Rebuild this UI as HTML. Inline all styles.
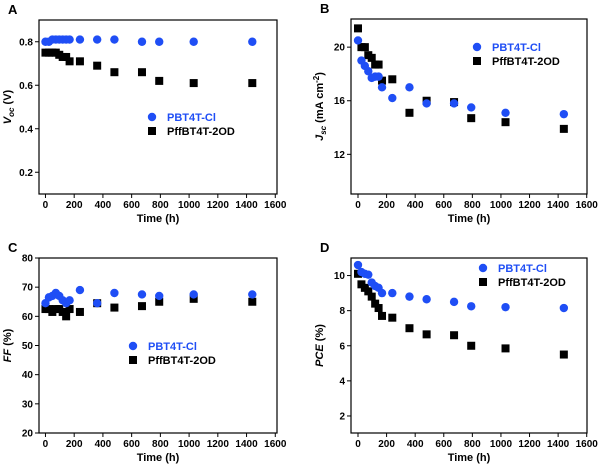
<!DOCTYPE html>
<html><head><meta charset="utf-8"><style>
body{margin:0;background:#fff;}
svg text{font-family:"Liberation Sans",Arial,sans-serif;font-weight:bold;}
</style></head><body>
<svg id="chart" width="600" height="465" viewBox="0 0 600 465" xmlns="http://www.w3.org/2000/svg"></svg>
<script>
const times = [0,24,48,72,96,120,144,168,240,360,480,672,792,1032,1440];
const xTicks = [0,200,400,600,800,1000,1200,1400,1600];
const vocBlue = [0.80,0.80,0.81,0.81,0.81,0.81,0.81,0.81,0.81,0.81,0.81,0.80,0.80,0.80,0.80];
const vocBlack = [0.75,0.75,0.75,0.75,0.74,0.73,0.73,0.71,0.71,0.69,0.66,0.66,0.62,0.61,0.61];
const jscBlue = [20.5,19.0,18.6,18.2,17.7,17.8,17.8,17.0,16.2,17.0,15.8,15.8,15.5,15.1,15.0];
const jscBlack = [21.4,20.0,20.0,19.4,19.2,18.7,18.7,17.5,17.6,15.1,16.0,15.9,14.7,14.4,13.9];
const ffBlue = [64.5,66.5,67,68,67,65.5,64.5,65.5,69,64.5,68,67.5,67,67.5,67.5];
const ffBlack = [62.5,62.5,61.5,62.5,62.5,61.5,60,62.5,61.5,64.5,63,63.5,65,66,65];
const pceBlue = [10.6,10.2,10.1,10.05,9.6,9.4,9.3,9.0,9.0,8.8,8.65,8.5,8.25,8.2,8.15];
const pceBlack = [10.1,9.5,9.3,9.1,8.8,8.4,8.15,7.7,7.6,7.0,6.65,6.6,6.0,5.85,5.5];
const vocTicks = [0.2,0.4,0.6,0.8];
const jscTicks = [12,16,20];
const ffTicks = [20,30,40,50,60,70,80];
const pceTicks = [2,4,6,8,10];

const NS="http://www.w3.org/2000/svg";
const svg=document.getElementById('chart');
function mk(tag,attrs,parent){const e=document.createElementNS(NS,tag);for(const k in attrs)e.setAttribute(k,attrs[k]);(parent||svg).appendChild(e);return e;}

const panels=[
 {id:'a',letter:'A',box:[39,20,277,194],x0:-45,x1:1612,y0:0.1,y1:0.9,ticks:vocTicks,fmt:v=>v.toFixed(1),blue:vocBlue,black:vocBlack,leg:[152,117],ytitle:'voc'},
 {id:'b',letter:'B',box:[351,19,587,194],x0:-49,x1:1602,y0:9.04,y1:22.1,ticks:jscTicks,fmt:v=>String(v),blue:jscBlue,black:jscBlack,leg:[477,47],ytitle:'jsc'},
 {id:'c',letter:'C',box:[39,258,277,433],x0:-45,x1:1612,y0:20,y1:80,ticks:ffTicks,fmt:v=>String(v),blue:ffBlue,black:ffBlack,leg:[133,346],ytitle:'ff'},
 {id:'d',letter:'D',box:[351,258,587,433],x0:-49,x1:1602,y0:1.03,y1:11.0,ticks:pceTicks,fmt:v=>String(v),blue:pceBlue,black:pceBlack,leg:[483,268],ytitle:'pce'}
];
panels.forEach(p=>{
 const [L,T,R,B]=p.box;
 const g=mk('g',{});
 
 
 const sx=v=>L+(v-p.x0)/(p.x1-p.x0)*(R-L);
 const sy=v=>B-(v-p.y0)/(p.y1-p.y0)*(B-T);
 const lt=mk('text',{x:L-31,y:T-6,'font-size':13},g);lt.textContent=p.letter;
 
 
 const frame=mk('rect',{x:L,y:T,width:R-L,height:B-T,fill:'none',stroke:'#000','stroke-width':1.2},g);
 
 
 xTicks.forEach(t=>{
  const x=sx(t);
  mk('line',{x1:x,y1:B,x2:x,y2:B+4,stroke:'#000','stroke-width':1},g);
  const tx=mk('text',{x:x,y:B+14,'font-size':10,'text-anchor':'middle'},g);tx.textContent=t;
  
  
 });
 p.ticks.forEach(t=>{
  const y=sy(t);
  mk('line',{x1:L-4,y1:y,x2:L,y2:y,stroke:'#000','stroke-width':1},g);
  const ty=mk('text',{x:L-6,y:y+3.5,'font-size':10,'text-anchor':'end'},g);ty.textContent=p.fmt(t);
  
  
 });
 const xt=mk('text',{x:(L+R)/2,y:B+28,'font-size':11,'text-anchor':'middle'},g);xt.textContent='Time (h)';
 
 
 const cy=(T+B)/2, ax=L-28;
 const yt=mk('text',{x:ax,y:cy,'font-size':11,'text-anchor':'middle',transform:`rotate(-90 ${ax} ${cy})`},g);
 
 
 if(p.ytitle==='voc')yt.innerHTML='<tspan font-style="italic">V</tspan><tspan font-size="8" dy="3" font-style="italic">oc</tspan><tspan dy="-3"> (V)</tspan>';
 if(p.ytitle==='jsc')yt.innerHTML='<tspan font-style="italic">J</tspan><tspan font-size="8" dy="3" font-style="italic">sc</tspan><tspan dy="-3"> (mA cm</tspan><tspan font-size="8" dy="-4">-2</tspan><tspan dy="4">)</tspan>';
 if(p.ytitle==='ff')yt.innerHTML='<tspan font-style="italic">FF</tspan> (%)';
 if(p.ytitle==='pce')yt.innerHTML='<tspan font-style="italic">PCE</tspan> (%)';
 times.forEach((t,i)=>{
  const s=mk('rect',{x:sx(t)-4,y:sy(p.black[i])-4,width:8,height:8,fill:'#000'},g);
  
  
 });
 times.forEach((t,i)=>{
  const c=mk('circle',{cx:sx(t),cy:sy(p.blue[i]),r:4.2,fill:'#1f4ef5'},g);
  
  
 });
 const [lx,ly]=p.leg;
 const lg=mk('g',{},g);
 
 
 mk('circle',{cx:lx,cy:ly,r:4.2,fill:'#1f4ef5'},lg);
 const l1=mk('text',{x:lx+15,y:ly+4,'font-size':11,fill:'#1f4ef5'},lg);l1.textContent='PBT4T-Cl';
 
 
 mk('rect',{x:lx-4,y:ly+10,width:8,height:8,fill:'#000'},lg);
 const l2=mk('text',{x:lx+15,y:ly+18,'font-size':11,fill:'#000'},lg);l2.textContent='PffBT4T-2OD';
 
 
});
</script>
</body></html>
